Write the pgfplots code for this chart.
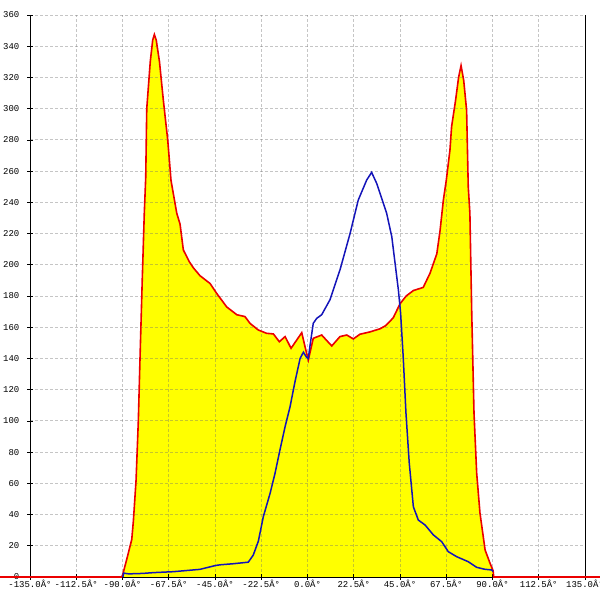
\documentclass[border=0pt]{standalone}
\usepackage{fontspec}
\usepackage{pgfplots}
\pgfplotsset{compat=1.18}
\newfontfamily\labfont{Liberation Mono}
\definecolor{gridc}{RGB}{110,110,110}
\definecolor{blueline}{RGB}{20,20,185}
\definecolor{redline}{RGB}{235,0,0}
\definecolor{fillc}{RGB}{255,255,0}
\begin{document}
\begin{tikzpicture}
\begin{axis}[
  set layers, axis on top,
  scale only axis, width=555bp, height=562bp,
  xmin=-135, xmax=135, ymin=0, ymax=360,
  clip=false,
  axis x line*=bottom, axis y line*=box,
  ytick pos=left,
  xtick={-135,-112.5,-90,-67.5,-45,-22.5,0,22.5,45,67.5,90,112.5,135},
  xticklabels={-135.0Â°,-112.5Â°,-90.0Â°,-67.5Â°,-45.0Â°,-22.5Â°,0.0Â°,22.5Â°,45.0Â°,67.5Â°,90.0Â°,112.5Â°,135.0Â°},
  ytick={0,20,...,360},
  tick align=center, major tick length=5bp,
  tick style={black, line width=0.6bp},
  /pgf/number format/assume math mode=true,
  ticklabel style={font=\labfont\fontsize{9}{10}\selectfont},
  xticklabel style={anchor=north, inner sep=0pt, yshift=-0.5bp},
  yticklabel style={anchor=east, inner sep=0pt, xshift=-8bp},
  grid=major,
  grid style={gridc, draw opacity=0.4, line width=0.8bp, dash pattern=on 2.5bp off 2.5bp},
  axis line style={black, line width=0.8bp},
]
\addplot[fill=fillc, draw=none] coordinates {
(-90.5,0) (-90,1) (-88,11) (-85.5,24) (-84.7,36) (-83.4,62) (-82.3,100) (-81.5,139)
(-80.4,190) (-79.4,233) (-78.7,256) (-78.2,300) (-76.5,330) (-75.3,344) (-74.5,347.5)
(-73.6,344) (-72,330) (-70.1,305) (-68,280) (-66.4,254) (-63.6,233) (-62,226)
(-60.4,209.5) (-57.5,202) (-55.5,198) (-52.3,193) (-47.4,188) (-44.2,181.7)
(-39.3,173) (-34.4,168) (-30.4,166.8) (-28,162.5) (-23.9,158.2) (-19.9,156.1)
(-16.6,155.7) (-13.7,150.7) (-10.9,154) (-8,146.5) (-2.8,156.5) (-1.2,147.5)
(0.4,139) (2.8,152.9) (6.9,155) (11.8,148) (15.8,154) (19.1,155) (22.3,152.5)
(25.5,155.5) (30.4,157) (32.8,158) (35.3,159) (38,161) (41.7,166) (45,175)
(48,180) (51.5,183.5) (56.3,185.5) (59.6,194.6) (62.9,207) (64.5,222) (66.1,241.5)
(67.5,254) (69.3,273.5) (70.1,288.5) (72,305) (73.5,320) (74.7,327.6) (76,318)
(77.4,299) (78.2,250) (79,233) (79.9,169) (81,105) (82.3,66.6) (83.9,41)
(86.4,17.3) (88.8,8.8) (90.3,4) (90.6,0)
} \closedcycle;
\addplot[redline, line width=1.6bp, on layer=axis foreground] coordinates {
(-149.6,0) (-90.5,0) (-90,1) (-88,11) (-85.5,24) (-84.7,36) (-83.4,62) (-82.3,100) (-81.5,139)
(-80.4,190) (-79.4,233) (-78.7,256) (-78.2,300) (-76.5,330) (-75.3,344) (-74.5,347.5)
(-73.6,344) (-72,330) (-70.1,305) (-68,280) (-66.4,254) (-63.6,233) (-62,226)
(-60.4,209.5) (-57.5,202) (-55.5,198) (-52.3,193) (-47.4,188) (-44.2,181.7)
(-39.3,173) (-34.4,168) (-30.4,166.8) (-28,162.5) (-23.9,158.2) (-19.9,156.1)
(-16.6,155.7) (-13.7,150.7) (-10.9,154) (-8,146.5) (-2.8,156.5) (-1.2,147.5)
(0.4,139) (2.8,152.9) (6.9,155) (11.8,148) (15.8,154) (19.1,155) (22.3,152.5)
(25.5,155.5) (30.4,157) (32.8,158) (35.3,159) (38,161) (41.7,166) (45,175)
(48,180) (51.5,183.5) (56.3,185.5) (59.6,194.6) (62.9,207) (64.5,222) (66.1,241.5)
(67.5,254) (69.3,273.5) (70.1,288.5) (72,305) (73.5,320) (74.7,327.6) (76,318)
(77.4,299) (78.2,250) (79,233) (79.9,169) (81,105) (82.3,66.6) (83.9,41)
(86.4,17.3) (88.8,8.8) (90.3,4) (90.6,0) (142.3,0)
};
\addplot[blueline, line width=1.5bp, on layer=axis foreground] coordinates {
(-89.8,0) (-89.5,2.5) (-87,2) (-80,2.3) (-75,2.8) (-65.3,3.4) (-52.3,4.9) (-45,7.3)
(-42.6,7.8) (-36.1,8.5) (-28.8,9.5) (-26.4,14) (-23.9,23) (-21.5,38.6) (-18.2,53.6)
(-15.8,66.4) (-13.4,81.4) (-10.9,96.3) (-8.5,109) (-6.1,125) (-3.6,140) (-2,144)
(-0.6,141) (0.4,140) (1.2,148) (2.8,162.5) (4.5,165.7) (6.9,168) (10.9,177.5)
(15.8,196.7) (20.7,220) (24.7,241.5) (28.8,254.3) (31.2,259.2) (33.7,252) (36,243)
(38.5,233) (41,218) (42.6,201) (44.2,184) (45.3,169) (46.6,140) (47.9,105) (49.5,73)
(51.5,45) (53.9,36.5) (57.2,33.3) (61.2,27) (65.3,22.6) (68.5,16.2) (72.6,13)
(78.2,9.8) (82.3,6.2) (86,5) (89.6,4.5) (90.3,3.5)
};
\end{axis}
\pgfresetboundingbox
\path[use as bounding box] ([xshift=-30bp,yshift=-23bp]current axis.south west) rectangle ([xshift=15bp,yshift=15bp]current axis.north east);
\end{tikzpicture}
\end{document}
